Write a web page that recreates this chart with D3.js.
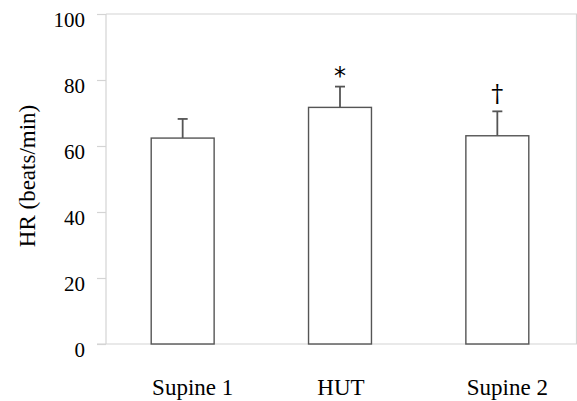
<!DOCTYPE html>
<html>
<head>
<meta charset="utf-8">
<script src="https://cdn.jsdelivr.net/npm/d3@7"></script>
<style>
  body { margin: 0; background: #fff; }
  text { font-family: "Liberation Serif", "Times New Roman", serif; fill: #000; }
</style>
</head>
<body>
<div class="chart"></div>
<script>
// values
const conditions = ["Supine 1", "HUT", "Supine 2"];
const hrMean = [62.4, 71.7, 63.1];
const hrSD = [5.8, 6.3, 7.4];
const marks = ["", "*", "\u2020"];
const yTicks = [0, 20, 40, 60, 80, 100];

const margin = {top: 14, right: 0, bottom: 57, left: 106};
const width = 577 - margin.left - margin.right,
      height = 401 - margin.top - margin.bottom;

const svg = d3.select(".chart").append("svg")
    .attr("width", width + margin.left + margin.right)
    .attr("height", height + margin.top + margin.bottom)
  .append("g")
    .attr("transform", "translate(" + margin.left + "," + margin.top + ")");

const data = conditions.map((c, i) => ({name: c, mean: hrMean[i], sd: hrSD[i], mark: marks[i]}));

const xScale = d3.scaleBand().domain(conditions).range([-2, width - 1]).padding(0);
const yScale = d3.scaleLinear().domain([0, 100]).range([height, 0]);
const barW = xScale.bandwidth() * 0.4;

// light gray frame (top and right)
svg.append("path")
    .attr("d", `M0,0H${width - 0.5}V${height}`)
    .attr("fill", "none")
    .attr("stroke", "#d4d4d4")
    .attr("stroke-width", 1.2);

// y axis
const yAxis = d3.axisLeft(yScale).tickValues(yTicks).tickSize(9).tickPadding(12);
const yAxisSVG = svg.append("g").attr("class", "axis y-axis").call(yAxis);
yAxisSVG.select(".domain").attr("stroke", "#d4d4d4").attr("stroke-width", 1.2)
    .attr("d", `M0,0V${height}`);
yAxisSVG.selectAll(".tick line").attr("stroke", "#d4d4d4").attr("stroke-width", 1.2);
yAxisSVG.selectAll(".tick text")
    .style("font-size", "21px")
    .attr("dy", "0.6em");

// x axis (line only, labels below)
const xAxis = d3.axisBottom(xScale).tickSize(0).tickPadding(0);
const xAxisSVG = svg.append("g").attr("class", "axis x-axis")
    .attr("transform", `translate(0, ${height})`).call(xAxis);
xAxisSVG.select(".domain").attr("stroke", "#d4d4d4").attr("stroke-width", 1.2)
    .attr("d", `M-9,0H${width}`);
// the "Supine" labels sit a little right of their bars in the original
xAxisSVG.selectAll(".tick text")
    .style("font-size", "23px")
    .attr("y", 51)
    .attr("dy", 0)
    .attr("dx", d => d === "HUT" ? 1 : 10);

// y label
svg.append("text")
    .attr("transform", `translate(${27 - margin.left + 8}, ${176 - margin.top}) rotate(-90)`)
    .attr("text-anchor", "middle")
    .style("font-size", "23px")
    .text("HR (beats/min)");

// error bars (upper only)
const err = svg.selectAll(".err").data(data).enter().append("g").attr("class", "err");
err.append("line")
    .attr("x1", d => xScale(d.name) + xScale.bandwidth() / 2)
    .attr("x2", d => xScale(d.name) + xScale.bandwidth() / 2)
    .attr("y1", d => yScale(d.mean))
    .attr("y2", d => yScale(d.mean + d.sd))
    .attr("stroke", "#555").attr("stroke-width", 1.8);
err.append("line")
    .attr("x1", d => xScale(d.name) + xScale.bandwidth() / 2 - 5)
    .attr("x2", d => xScale(d.name) + xScale.bandwidth() / 2 + 5)
    .attr("y1", d => yScale(d.mean + d.sd))
    .attr("y2", d => yScale(d.mean + d.sd))
    .attr("stroke", "#555").attr("stroke-width", 1.8);

// bars
svg.selectAll(".bar").data(data).enter().append("rect")
    .attr("class", "bar")
    .attr("x", d => xScale(d.name) + (xScale.bandwidth() - barW) / 2)
    .attr("y", d => yScale(d.mean))
    .attr("width", barW)
    .attr("height", d => height - yScale(d.mean))
    .attr("fill", "#fff")
    .attr("stroke", "#555")
    .attr("stroke-width", 1.4);

// significance marks
svg.selectAll(".mark").data(data.filter(d => d.mark === "*")).enter().append("text")
    .attr("class", "mark")
    .attr("x", d => xScale(d.name) + xScale.bandwidth() / 2)
    .attr("y", d => yScale(d.mean + d.sd) - 3)
    .attr("text-anchor", "middle")
    .style("font-family", "DejaVu Sans, sans-serif")
    .style("font-size", "24px")
    .text(d => d.mark);
svg.selectAll(".mark2").data(data.filter(d => d.mark === "\u2020")).enter().append("text")
    .attr("class", "mark2")
    .attr("x", d => xScale(d.name) + xScale.bandwidth() / 2)
    .attr("y", d => yScale(d.mean + d.sd) - 9)
    .attr("text-anchor", "middle")
    .style("font-family", "DejaVu Serif, serif")
    .style("font-size", "24px")
    .text(d => d.mark);
</script>
</body>
</html>
